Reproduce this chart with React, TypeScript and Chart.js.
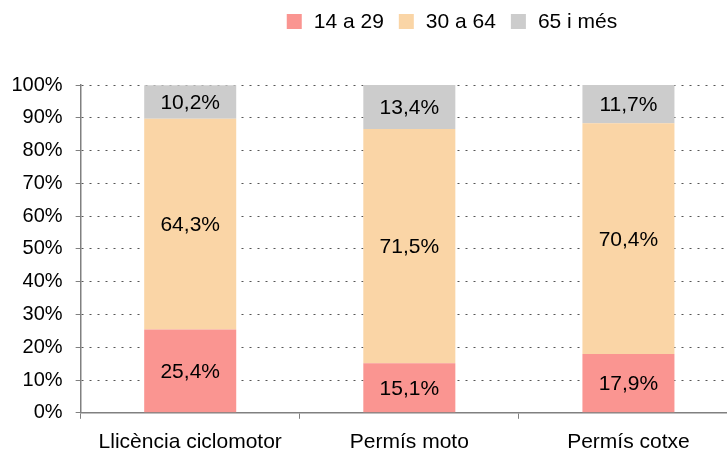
import React, { useEffect, useRef } from "react";
import { Chart, registerables } from "chart.js";

Chart.register(...registerables);

const categories = ["Llicència ciclomotor", "Permís moto", "Permís cotxe"];
const seriesLabels = ["14 a 29", "30 a 64", "65 i més"];
const young = [25.4, 15.1, 17.9];
const adult = [64.3, 71.5, 70.4];
const senior = [10.2, 13.4, 11.7];
const colors = ["#FA9591", "#FAD5A6", "#CCCCCC"];

const FONT = "'Liberation Sans', Arial, sans-serif";
const FS = 21;

const fmt = (v: number) => v.toFixed(1).replace(".", ",") + "%";

const labelPlugin = {
  id: "segLabels",
  afterDatasetsDraw(chart: any) {
    const ctx = chart.ctx;
    ctx.save();
    ctx.font = `${FS}px ${FONT}`;
    ctx.fillStyle = "#000";
    ctx.textAlign = "center";
    ctx.textBaseline = "middle";
    chart.data.datasets.forEach((ds: any, i: number) => {
      const meta = chart.getDatasetMeta(i);
      meta.data.forEach((bar: any, j: number) => {
        const p = bar.getProps(["x", "y", "base"], true);
        ctx.fillText(fmt(ds.data[j]), p.x, (p.y + p.base) / 2 + 1);
      });
    });
    ctx.restore();
  },
};

const legendPlugin = {
  id: "customLegend",
  afterDraw(chart: any) {
    const ctx = chart.ctx;
    ctx.save();
    ctx.font = `${FS}px ${FONT}`;
    ctx.textBaseline = "middle";
    ctx.textAlign = "left";
    const box = 15;
    const gap = 12;
    const itemGap = 15;
    const widths = seriesLabels.map((l) => box + gap + ctx.measureText(l).width);
    const total = widths.reduce((a, b) => a + b, 0) + itemGap * (widths.length - 1);
    let x = 452 - total / 2;
    const cy = 21.5;
    seriesLabels.forEach((l, i) => {
      ctx.fillStyle = colors[i];
      ctx.fillRect(x, cy - box / 2, box, box);
      ctx.fillStyle = "#000";
      ctx.fillText(l, x + box + gap, cy + 1);
      x += widths[i] + itemGap;
    });
    ctx.restore();
  },
};

export default function App() {
  const ref = useRef<HTMLCanvasElement>(null);
  useEffect(() => {
    document.body.style.margin = "0";
    document.body.style.overflow = "hidden";
    const chart = new Chart(ref.current!, {
      type: "bar",
      data: {
        labels: categories,
        datasets: [young, adult, senior].map((d, i) => ({
          label: seriesLabels[i],
          data: d,
          backgroundColor: colors[i],
          borderWidth: 0,
          barPercentage: 0.42,
          categoryPercentage: 1,
        })),
      },
      options: {
        responsive: false,
        animation: false,
        devicePixelRatio: 1,
        layout: { padding: { top: 85, left: -1.5, right: 22, bottom: -13 } },
        plugins: { legend: { display: false }, tooltip: { enabled: false } },
        scales: {
          x: {
            stacked: true,
            offset: true,
            grid: {
              offset: true,
              drawOnChartArea: false,
              tickLength: 6,
              color: "#808080",
              tickColor: "#808080",
            },
            border: { color: "#808080", width: 1.5 },
            ticks: { color: "#000", font: { family: FONT, size: FS }, padding: 11 },
          },
          y: {
            stacked: true,
            min: 0,
            max: 100,
            grid: {
              color: "#555",
              tickColor: "#808080",
              tickLength: 5,
              tickBorderDash: [],
            } as any,
            border: { color: "#808080", width: 1.5, dash: [2, 6] } as any,
            ticks: {
              stepSize: 10,
              color: "#000",
              font: { family: FONT, size: 20 },
              padding: 13,
              callback: (v: any) => v + "%",
            },
          },
        },
      },
      plugins: [labelPlugin, legendPlugin],
    });
    return () => chart.destroy();
  }, []);
  return (
    <div style={{ position: "fixed", left: 0, top: 0 }}>
      <canvas ref={ref} width={760} height={453} />
    </div>
  );
}
